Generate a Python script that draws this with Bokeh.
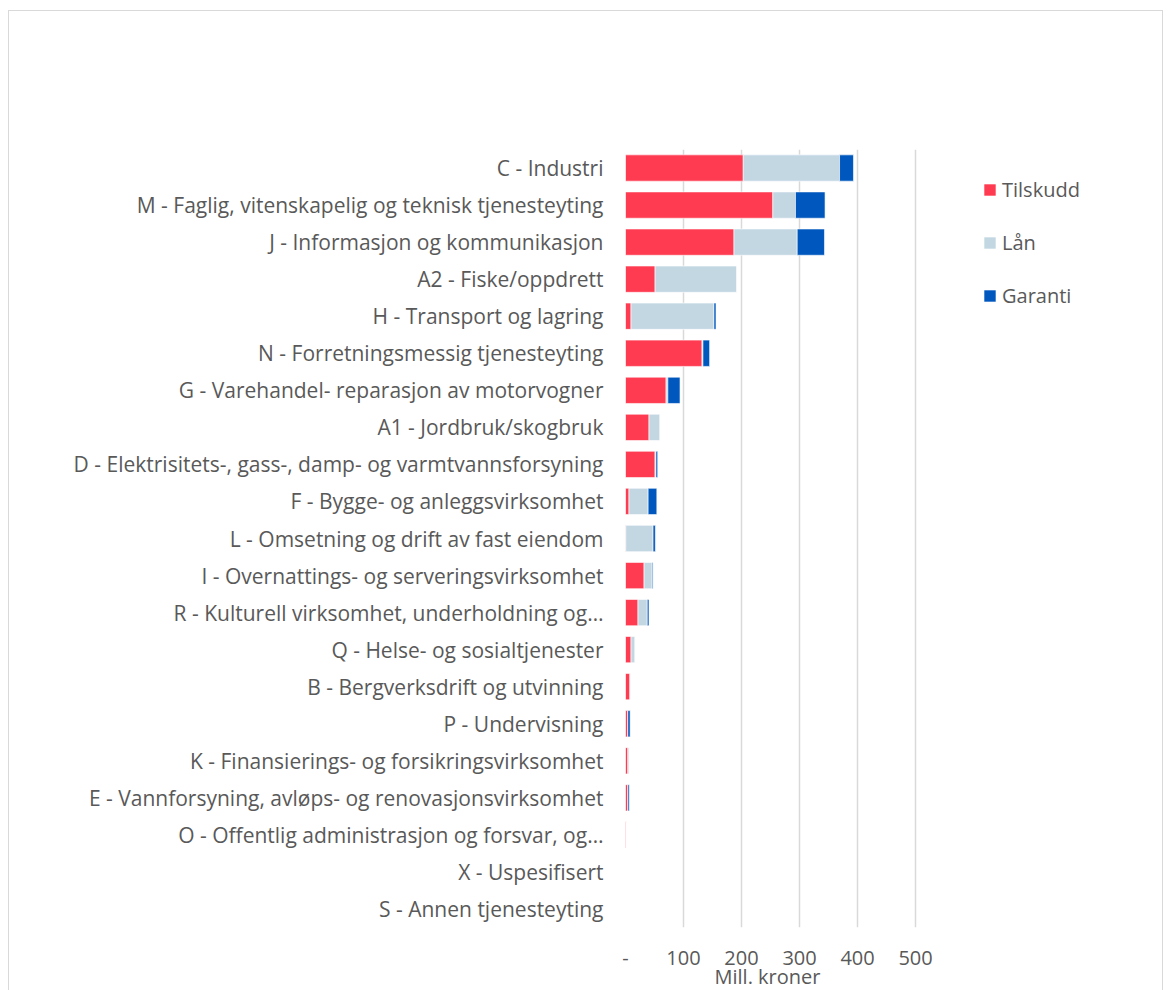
from bokeh.plotting import figure
from bokeh.models import FactorRange, Range1d, FixedTicker, Legend, LegendItem, Title
from bokeh.embed import file_html
from bokeh.resources import INLINE

categories = [
    "C - Industri",
    "M - Faglig, vitenskapelig og teknisk tjenesteyting",
    "J - Informasjon og kommunikasjon",
    "A2 - Fiske/oppdrett",
    "H - Transport og lagring",
    "N - Forretningsmessig tjenesteyting",
    "G - Varehandel- reparasjon av motorvogner",
    "A1 - Jordbruk/skogbruk",
    "D - Elektrisitets-, gass-, damp- og varmtvannsforsyning",
    "F - Bygge- og anleggsvirksomhet",
    "L - Omsetning og drift av fast eiendom",
    "I - Overnattings- og serveringsvirksomhet",
    "R - Kulturell virksomhet, underholdning og\u2026",
    "Q - Helse- og sosialtjenester",
    "B - Bergverksdrift og utvinning",
    "P - Undervisning",
    "K - Finansierings- og forsikringsvirksomhet",
    "E - Vannforsyning, avl\u00f8ps- og renovasjonsvirksomhet",
    "O - Offentlig administrasjon og forsvar, og\u2026",
    "X - Uspesifisert",
    "S - Annen tjenesteyting",
]
tilskudd = [203, 254, 187, 51, 9.5, 132, 70, 40.5, 51, 6, 0.5, 32, 21.5, 9.5, 8, 4, 4, 4, 1.5, 0, 0]
laan = [166, 39, 109, 141, 143, 1.5, 3, 19, 1.5, 33, 47, 14, 16, 7, 0, 0, 2.5, 0, 0, 0, 0]
garanti = [24, 51, 47, 0, 3.5, 11.5, 21, 0, 3, 15, 4, 1.5, 3, 0, 0, 4, 0, 2.5, 0, 0, 0]
series_names = ["Tilskudd", "L\u00e5n", "Garanti"]
x_ticks = [0, 100, 200, 300, 400, 500]
x_tick_labels = {0: "-", 100: "100", 200: "200", 300: "300", 400: "400", 500: "500"}
x_title = "Mill. kroner"

colors = ["#FF3B51", "#C3D7E3", "#0057BE"]
FONT = "Open Sans"
TXT = "#595959"

source = dict(cat=categories, t=tilskudd, l=laan, g=garanti)

p = figure(
    width=1155, height=982,
    y_range=FactorRange(factors=list(reversed(categories))),
    x_range=Range1d(0, 905),
    output_backend="svg", toolbar_location=None,
    min_border_left=616, min_border_right=14, min_border_top=138, min_border_bottom=66,
)
p.margin = (10, 0, 0, 8)
p.styles = {"border": "1px solid #D9D9D9"}
p.outline_line_color = None
p.background_fill_color = "white"
p.border_fill_color = "white"

rs = p.hbar_stack(["t", "l", "g"], y="cat", height=0.71, color=colors,
                  line_color="white", line_width=0.6, source=source)

p.xgrid.grid_line_color = "#D9D9D9"
p.xgrid.grid_line_width = 1.5
p.ygrid.grid_line_color = None
p.xaxis.ticker = FixedTicker(ticks=x_ticks)
p.xgrid.ticker = FixedTicker(ticks=x_ticks)
p.xaxis.major_label_overrides = x_tick_labels

for ax in (p.xaxis, p.yaxis):
    ax.axis_line_color = None
    ax.major_tick_line_color = None
    ax.minor_tick_line_color = None
    ax.major_tick_out = 0
    ax.major_tick_in = 0
    ax.major_label_text_color = TXT
    ax.major_label_text_font = FONT

p.yaxis.major_label_text_font_size = "21px"
p.yaxis.major_label_standoff = 22
p.xaxis.major_label_text_font_size = "20px"
p.xaxis.major_label_standoff = 23

title_below = Title(text=x_title, align="left", offset=89, standoff=-13,
                    text_font=FONT, text_font_size="20px", text_font_style="normal",
                    text_color=TXT)
p.add_layout(title_below, "below")

items = [LegendItem(label=n, renderers=[r]) for n, r in zip(series_names, rs)]
legend = Legend(items=items, location=(357, 618), orientation="vertical",
                glyph_width=15, glyph_height=15, label_height=20, spacing=26,
                label_text_font=FONT, label_text_font_size="20px", label_text_color=TXT,
                background_fill_alpha=0, border_line_color=None, padding=0, margin=0,
                label_standoff=5)
p.add_layout(legend, "center")

open("out.html", "w").write(file_html(p, INLINE))
